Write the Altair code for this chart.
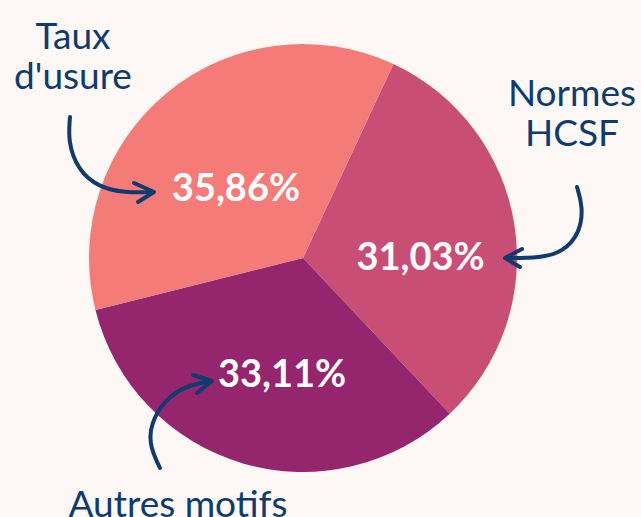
import math
import altair as alt
import pandas as pd

# ---- data ----
categories = ["Normes HCSF", "Autres motifs", "Taux d'usure"]
values = [31.03, 33.11, 35.86]
value_labels = ["31,03%", "33,11%", "35,86%"]
colors = ["#C94E76", "#95256C", "#F47B77"]

# annotation arrows (pixel space): curve points and arrow heads
arrow_ids = ["taux"] * 6 + ["normes"] * 6 + ["autres"] * 6
arrow_x = [70, 68, 78, 98, 125, 152,
           577, 583, 580, 563, 540, 507,
           160, 148, 153, 170, 190, 210]
arrow_y = [117, 142, 170, 187, 193, 192,
           187, 207, 233, 252, 258, 258,
           468, 443, 417, 395, 385, 381]
head_ids = ["taux"] * 3 + ["normes"] * 3 + ["autres"] * 3
head_x = [134, 154, 138, 522, 505, 520, 193, 212, 197]
head_y = [183, 192, 202, 249, 258, 267, 375, 381, 393]

NAVY = "#0F3B70"
BG = "#FDF8F5"
START = math.radians(25)

df = pd.DataFrame({"cat": categories, "value": values, "label": value_labels,
                   "idx": list(range(len(categories)))})
arrows = pd.DataFrame({"id": arrow_ids, "x": arrow_x, "y": arrow_y,
                       "o": list(range(len(arrow_x)))})
heads = pd.DataFrame({"id": head_ids, "x": head_x, "y": head_y,
                      "o": list(range(len(head_x)))})

theta = alt.Theta("value:Q", stack=True,
                  scale=alt.Scale(range=[START, START + 2 * math.pi]))
color = alt.Color("cat:N", scale=alt.Scale(domain=categories, range=colors), legend=None)
order = alt.Order("idx:Q")

base = alt.Chart(df)
pie = base.mark_arc(outerRadius=214, stroke=None).encode(
    theta=theta, color=color, order=order,
    x=alt.value(303), y=alt.value(258))

offsets = {"Taux d'usure": (3, 17), "Normes HCSF": (9, 18), "Autres motifs": (10, 12)}
label_layers = []
for cat, (dx, dy) in offsets.items():
    label_layers.append(
        base.mark_text(radius=110, font="Lato", fontSize=38, fontWeight="bold",
                       color="white", dx=dx, dy=dy, baseline="middle", align="center")
        .encode(theta=theta, order=order, text=alt.condition(
            alt.datum.cat == cat, "label:N", alt.value("")),
            x=alt.value(303), y=alt.value(258))
    )

xs = alt.X("x:Q", scale=alt.Scale(domain=[0, 641], range=[0, 641]), axis=None)
ys = alt.Y("y:Q", scale=alt.Scale(domain=[0, 517], range=[0, 517]), axis=None)

curves = alt.Chart(arrows).mark_line(
    interpolate="basis", color=NAVY, strokeWidth=4, strokeCap="round").encode(
    x=xs, y=ys, detail="id:N", order="o:Q")
arrowheads = alt.Chart(heads).mark_line(
    color=NAVY, strokeWidth=4, strokeCap="round", strokeJoin="round").encode(
    x=xs, y=ys, detail="id:N", order="o:Q")

def label(txt, x, y):
    return alt.Chart(pd.DataFrame({"t": [txt]})).mark_text(
        font="Lato", fontSize=37, color=NAVY, align="center", baseline="middle",
        lineBreak="\n", lineHeight=40).encode(
        text="t:N", x=alt.value(x), y=alt.value(y))

texts = [label("Taux\nd'usure", 73, 38),
         label("Normes\nHCSF", 572, 95),
         label("Autres motifs", 178, 506)]

chart = alt.layer(pie, *label_layers, curves, arrowheads, *texts).properties(
    width=641, height=517, background=BG, padding=0,
    autosize=alt.AutoSizeParams(type="none"),
).configure_view(stroke=None)

chart.save("out.html", embed_options={"renderer": "svg", "actions": False})
